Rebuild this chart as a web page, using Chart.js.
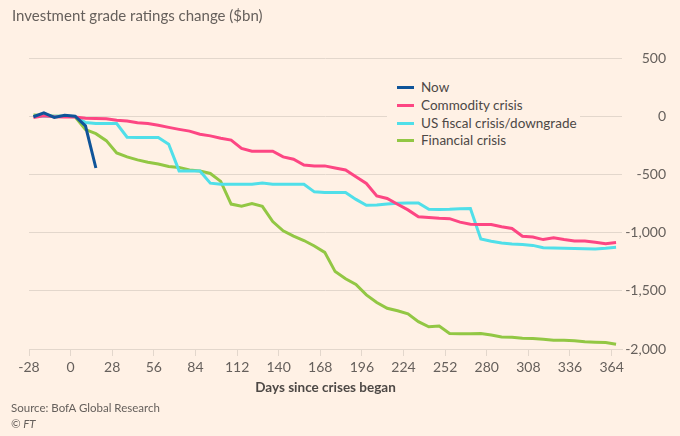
<!DOCTYPE html>
<html>
<head>
<meta charset="utf-8">
<script src="https://cdn.jsdelivr.net/npm/chart.js@4.4.1/dist/chart.umd.min.js"></script>
<style>
  html, body { margin: 0; padding: 0; background: #fff1e5; }
  body { width: 680px; height: 436px; position: relative; overflow: hidden; font-family: Lato, sans-serif; color: #66605c; }
  #chart { position: absolute; left: 0; top: 0; }
  .title { position: absolute; left: 12px; top: 5px; font-size: 15px; line-height: 20px; }
  .legend { position: absolute; left: 387px; top: 79px; width: 193px; box-sizing: border-box; padding-left: 10px; background: #fff1e5; }
  .legend div { height: 17.8px; line-height: 17.8px; font-size: 13.5px; color: #4d4845; white-space: nowrap; }
  .legend span { display: inline-block; width: 17px; height: 3px; vertical-align: middle; margin-right: 7px; position: relative; top: -1px; }
  .source { position: absolute; left: 11px; top: 400px; font-size: 11.5px; line-height: 16px; }
  .copy { position: absolute; left: 11px; top: 416px; font-size: 11.5px; line-height: 16px; font-style: italic; }
</style>
</head>
<body>
<canvas id="chart" width="680" height="436"></canvas>
<div class="title">Investment grade ratings change ($bn)</div>
<div class="legend">
  <div><span style="background:#0f5499"></span>Now</div>
  <div><span style="background:#fd4683"></span>Commodity crisis</div>
  <div><span style="background:#50dfe9"></span>US fiscal crisis/downgrade</div>
  <div><span style="background:#92c744"></span>Financial crisis</div>
</div>
<div class="source">Source: BofA Global Research</div>
<div class="copy">© FT</div>
<script>
// weekly observations, days since each crisis began
const days = [-25, -18, -11, -4, 3, 10, 17, 24, 31, 38, 45, 52, 59, 66, 73, 80, 87, 94, 101, 108,
  115, 122, 129, 136, 143, 150, 157, 164, 171, 178, 185, 192, 199, 206, 213, 220, 227, 234, 241, 248,
  255, 262, 269, 276, 283, 290, 297, 304, 311, 318, 325, 332, 339, 346, 353, 360, 367];

const nowCrisis = [-5, 28, -10, 8, 0, -83, -445];

const commodityCrisis = [-11, 3, -5, -6, -6, -18, -20, -21, -34, -42, -57, -63, -77, -96, -113, -128, -155, -169, -190, -205,
  -276, -301, -301, -301, -350, -370, -420, -427, -427, -445, -462, -520, -578, -685, -707, -757, -805, -864, -870, -876,
  -880, -910, -928, -930, -930, -950, -965, -1032, -1038, -1060, -1045, -1060, -1072, -1073, -1083, -1095, -1085];

const usFiscalCrisis = [0, 0, 0, 0, -3, -55, -63, -63, -63, -180, -183, -183, -183, -240, -470, -470, -470, -575, -585, -585,
  -585, -585, -575, -585, -585, -585, -585, -650, -656, -656, -656, -715, -765, -762, -755, -748, -745, -745, -800, -802,
  -800, -795, -794, -1055, -1075, -1090, -1098, -1103, -1110, -1130, -1133, -1135, -1137, -1138, -1140, -1134, -1126];

const financialCrisis = [10, 5, 0, 0, -5, -115, -150, -210, -315, -350, -375, -395, -410, -432, -440, -462, -470, -492, -560, -755,
  -773, -750, -775, -905, -985, -1030, -1068, -1115, -1170, -1335, -1397, -1445, -1535, -1600, -1650, -1672, -1698, -1765, -1809, -1803,
  -1866, -1870, -1868, -1867, -1880, -1896, -1900, -1907, -1910, -1916, -1925, -1925, -1930, -1938, -1942, -1945, -1960];

const xTicks = [-28, 0, 28, 56, 84, 112, 140, 168, 196, 224, 252, 280, 308, 336, 364];
const yTicks = [500, 0, -500, -1000, -1500, -2000];

const toPoints = (values) => values.map((v, i) => ({ x: days[i], y: v }));

const lineStyle = (label, values, color) => ({
  label: label,
  data: toPoints(values),
  borderColor: color,
  backgroundColor: color,
  borderWidth: 3,
  pointRadius: 0,
  tension: 0,
  fill: false,
});

const gridColor = "#e3d7cc";
const textColor = "#66605c";

new Chart(document.getElementById("chart").getContext("2d"), {
  type: "line",
  data: {
    datasets: [
      lineStyle("Now", nowCrisis, "#0f5499"),
      lineStyle("Commodity crisis", commodityCrisis, "#fd4683"),
      lineStyle("US fiscal crisis/downgrade", usFiscalCrisis, "#50dfe9"),
      lineStyle("Financial crisis", financialCrisis, "#92c744"),
    ],
  },
  options: {
    responsive: false,
    animation: false,
    layout: {
      padding: { left: 29, right: 14, top: 58, bottom: 37 },
    },
    plugins: {
      legend: { display: false },
      tooltip: { enabled: false },
    },
    scales: {
      x: {
        type: "linear",
        min: -28,
        max: 371,
        afterBuildTicks: (scale) => {
          scale.ticks = xTicks.map((v) => ({ value: v }));
        },
        afterFit: (scale) => {
          scale.height = 50;
        },
        grid: {
          drawOnChartArea: false,
          drawTicks: true,
          tickLength: 7,
          color: gridColor,
        },
        border: { display: true, color: gridColor },
        ticks: {
          color: textColor,
          font: { family: "Lato", size: 14 },
          padding: 3,
          maxRotation: 0,
          autoSkip: false,
        },
        title: {
          display: true,
          text: "Days since crises began",
          color: "#4d4845",
          font: { family: "Lato", size: 13.5, weight: "bold" },
          padding: { top: 0, bottom: 3 },
        },
      },
      y: {
        type: "linear",
        position: "right",
        min: -2000,
        max: 500,
        afterBuildTicks: (scale) => {
          scale.ticks = yTicks.map((v) => ({ value: v }));
        },
        afterFit: (scale) => {
          scale.width = 44;
        },
        grid: {
          drawTicks: false,
          color: gridColor,
        },
        border: { display: false },
        ticks: {
          color: textColor,
          font: { family: "Lato", size: 14 },
          crossAlign: "far",
          callback: (value) => value.toLocaleString("en-US"),
        },
      },
    },
  },
});
</script>
</body>
</html>
